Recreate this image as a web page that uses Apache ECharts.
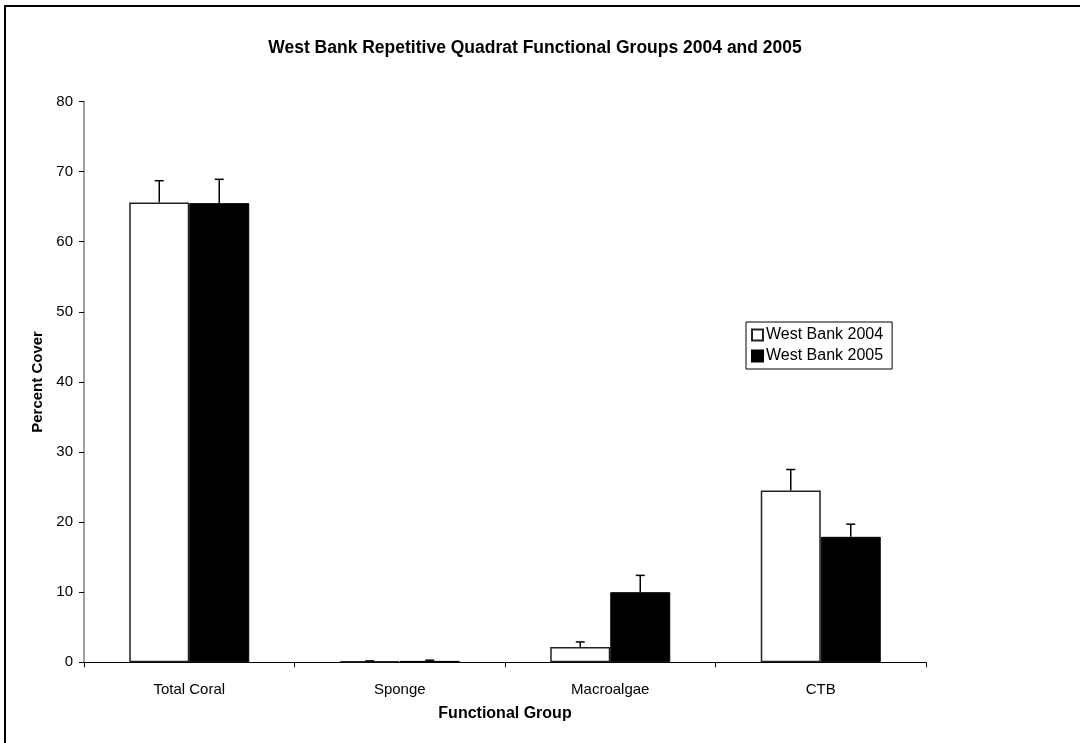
<!DOCTYPE html>
<html>
<head>
<meta charset="utf-8">
<style>
  html, body { margin: 0; padding: 0; background: #fff; }
  #chart { width: 1080px; height: 743px; }
</style>
<script src="https://cdn.jsdelivr.net/npm/echarts@6/dist/echarts.min.js"></script>
</head>
<body>
<div id="chart"></div>
<script>
// Functional groups and percent cover (mean and error) per year
const categories = ['Total Coral', 'Sponge', 'Macroalgae', 'CTB'];
const seriesNames = ['West Bank 2004', 'West Bank 2005'];
const cover2004 = [65.6, 0.15, 2.2, 24.5];
const error2004 = [3.1, 0.05, 0.7, 3.0];
const cover2005 = [65.5, 0.2, 10.0, 17.9];
const error2005 = [3.4, 0.1, 2.4, 1.8];
const yTicks = [0, 10, 20, 30, 40, 50, 60, 70, 80];

const FONT = 'Liberation Sans, Arial, sans-serif';
const GAP = 0.43;

function errorSeries(values, errors, side) {
  return {
    type: 'custom',
    z: 5,
    silent: true,
    data: values.map((v, i) => [i, v, v + errors[i]]),
    renderItem: function (params, api) {
      const band = api.size([1, 0])[0];
      const barW = band * (1 - GAP) / 2;
      const base = api.coord([api.value(0), api.value(1)]);
      const top = api.coord([api.value(0), api.value(2)]);
      const x = base[0] + side * barW / 2;
      const cap = 4.5;
      const style = { stroke: '#000', lineWidth: 1.5 };
      return {
        type: 'group',
        children: [
          { type: 'line', shape: { x1: x, y1: base[1], x2: x, y2: top[1] }, style: style },
          { type: 'line', shape: { x1: x - cap, y1: top[1], x2: x + cap, y2: top[1] }, style: style }
        ]
      };
    }
  };
}

const chart = echarts.init(document.getElementById('chart'));
chart.setOption({
  backgroundColor: '#fff',
  animation: false,
  title: {
    text: 'West Bank Repetitive Quadrat Functional Groups 2004 and 2005',
    left: 530,
    textAlign: 'center',
    top: 34,
    textStyle: { fontFamily: FONT, fontSize: 17.5, fontWeight: 'bold', color: '#000' }
  },
  legend: {
    orient: 'vertical',
    left: 746,
    top: 322,
    padding: [5, 9, 5, 5],
    itemGap: 5,
    itemWidth: 11,
    itemHeight: 11,
    borderColor: '#000',
    borderWidth: 1,
    icon: 'rect',
    textStyle: { fontFamily: FONT, fontSize: 16, color: '#000', padding: [0, 0, 0, -2] },
    data: seriesNames
  },
  grid: { left: 84, right: 154, top: 101.5, bottom: 80.7, containLabel: false },
  xAxis: {
    type: 'category',
    data: categories,
    boundaryGap: true,
    name: 'Functional Group',
    nameLocation: 'middle',
    nameGap: 43,
    nameTextStyle: { fontFamily: FONT, fontSize: 16, fontWeight: 'bold', color: '#000' },
    axisLine: { lineStyle: { color: '#000', width: 1 } },
    axisTick: { show: true, length: 5, inside: false, lineStyle: { color: '#000' } },
    axisLabel: { fontFamily: FONT, fontSize: 15, color: '#000', margin: 20 },
    splitLine: { show: false }
  },
  yAxis: {
    type: 'value',
    min: yTicks[0],
    max: yTicks[yTicks.length - 1],
    interval: yTicks[1] - yTicks[0],
    name: 'Percent Cover',
    nameLocation: 'middle',
    nameGap: 39,
    nameTextStyle: { fontFamily: FONT, fontSize: 15, fontWeight: 'bold', color: '#000' },
    axisLine: { show: true, lineStyle: { color: '#808080', width: 1.5 } },
    axisTick: { show: true, length: 5, lineStyle: { color: '#000' } },
    axisLabel: { fontFamily: FONT, fontSize: 15, color: '#000', margin: 11 },
    splitLine: { show: false }
  },
  series: [
    {
      name: seriesNames[0],
      type: 'bar',
      data: cover2004,
      barGap: '0%',
      barCategoryGap: (GAP * 100) + '%',
      itemStyle: { color: '#fff', borderColor: '#222', borderWidth: 1.5 }
    },
    {
      name: seriesNames[1],
      type: 'bar',
      data: cover2005,
      barGap: '0%',
      barCategoryGap: (GAP * 100) + '%',
      itemStyle: { color: '#000', borderColor: '#000', borderWidth: 1 }
    },
    errorSeries(cover2004, error2004, -1),
    errorSeries(cover2005, error2005, 1)
  ],
  graphic: [
    {
      type: 'rect',
      silent: true,
      shape: { x: 5, y: 6, width: 1090, height: 750 },
      style: { fill: 'none', stroke: '#000', lineWidth: 2 }
    }
  ]
});
</script>
</body>
</html>
